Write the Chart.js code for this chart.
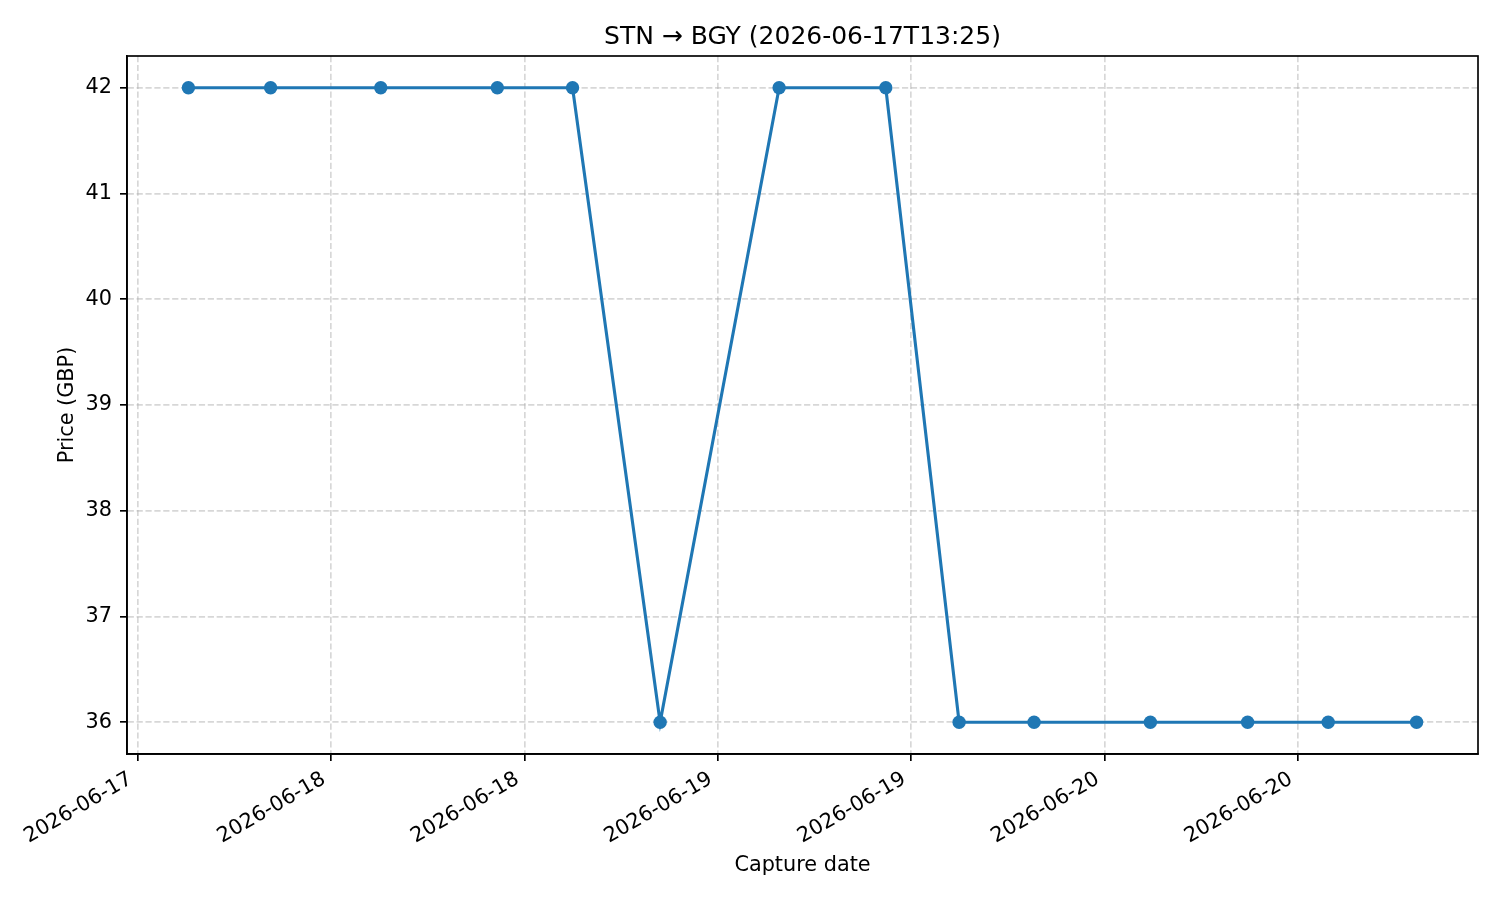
<!DOCTYPE html>
<html>
<head>
<meta charset="utf-8">
<script src="https://cdn.jsdelivr.net/npm/chart.js@4/dist/chart.umd.min.js"></script>
<style>
  html, body { margin: 0; padding: 0; background: #ffffff; }
  #wrap { width: 1500px; height: 900px; }
</style>
</head>
<body>
<div id="wrap"><canvas id="c" width="1500" height="900"></canvas></div>
<script>
const chartTitle = 'STN → BGY (2026-06-17T13:25)';
const xAxisTitle = 'Capture date';
const yAxisTitle = 'Price (GBP)';

const captureTimes = [
  '2026-06-17T15:09', '2026-06-17T20:15', '2026-06-18T03:05', '2026-06-18T10:19',
  '2026-06-18T14:59', '2026-06-18T20:25', '2026-06-19T03:48', '2026-06-19T10:25',
  '2026-06-19T14:58', '2026-06-19T19:37', '2026-06-20T02:50', '2026-06-20T08:52',
  '2026-06-20T13:52', '2026-06-20T19:21'
];
const prices = [42, 42, 42, 42, 42, 36, 42, 42, 36, 36, 36, 36, 36, 36];

const xTickTimes = [
  '2026-06-17T12:00', '2026-06-18T00:00', '2026-06-18T12:00', '2026-06-19T00:00',
  '2026-06-19T12:00', '2026-06-20T00:00', '2026-06-20T12:00'
];
const yTicks = [36, 37, 38, 39, 40, 41, 42];

const toMs = s => Date.parse(s + ':00Z');
const fmtDate = v => new Date(v).toISOString().slice(0, 10);

const xs = captureTimes.map(toMs);
const xSpan = Math.max(...xs) - Math.min(...xs);
const xMin = Math.min(...xs) - 0.05 * xSpan;
const xMax = Math.max(...xs) + 0.05 * xSpan;
const ySpan = Math.max(...prices) - Math.min(...prices);
const yMin = Math.min(...prices) - 0.05 * ySpan;
const yMax = Math.max(...prices) + 0.05 * ySpan;

const points = xs.map((x, i) => ({ x: x, y: prices[i] }));

const FONT = "'DejaVu Sans', sans-serif";
const GRID = 'rgba(176,176,176,0.5)';
const SPINE = '#000000';
const DASH = [6.2, 2.7];

const framePlugin = {
  id: 'frame',
  afterLayout(chart) {
    // centre the title over the plot area, like matplotlib
    const tb = chart.titleBlock;
    if (tb) {
      tb.left = chart.chartArea.left;
      tb.right = chart.chartArea.right;
      tb.width = chart.chartArea.right - chart.chartArea.left;
    }
  },
  afterDraw(chart) {
    const { ctx, chartArea: a } = chart;
    ctx.save();
    ctx.setLineDash([]);
    ctx.strokeStyle = SPINE;
    ctx.lineWidth = 1.67;
    ctx.strokeRect(a.left, a.top, a.right - a.left, a.bottom - a.top);
    ctx.restore();
  }
};

new Chart(document.getElementById('c'), {
  type: 'line',
  data: {
    datasets: [{
      data: points,
      borderColor: '#1f77b4',
      backgroundColor: '#1f77b4',
      borderWidth: 3.1,
      pointRadius: 6.7,
      pointHoverRadius: 6.7,
      pointBackgroundColor: '#1f77b4',
      pointBorderWidth: 0,
      tension: 0,
      fill: false
    }]
  },
  options: {
    responsive: false,
    devicePixelRatio: 1,
    animation: false,
    layout: { padding: { left: 0, right: 22, top: 0, bottom: 0 } },
    plugins: {
      legend: { display: false },
      tooltip: { enabled: false },
      title: {
        display: true,
        text: chartTitle,
        color: '#000000',
        font: { family: FONT, size: 25, weight: 'normal', lineHeight: 1.2 },
        padding: { top: 22, bottom: 4 }
      }
    },
    scales: {
      x: {
        type: 'linear',
        min: xMin,
        max: xMax,
        afterBuildTicks(scale) {
          scale.ticks = xTickTimes.map(t => ({ value: toMs(t) }));
        },
        afterFit(scale) {
          scale.height = 146;
          scale.paddingLeft = 0;
          scale.paddingRight = 0;
        },
        ticks: {
          autoSkip: false,
          minRotation: 30,
          maxRotation: 30,
          padding: 6,
          labelOffset: -7,
          color: '#000000',
          font: { family: FONT, size: 20.8, lineHeight: 1.2 },
          callback: v => fmtDate(v)
        },
        grid: {
          color: GRID,
          lineWidth: 1.67,
          drawTicks: true,
          tickLength: 7,
          tickColor: SPINE,
          tickWidth: 1.67,
          tickBorderDash: []
        },
        border: { display: true, color: SPINE, width: 1.67, dash: DASH },
        title: {
          display: true,
          text: xAxisTitle,
          color: '#000000',
          font: { family: FONT, size: 20.8, lineHeight: 1.2 },
          padding: { top: 0, bottom: 22 }
        }
      },
      y: {
        type: 'linear',
        min: yMin,
        max: yMax,
        afterBuildTicks(scale) {
          scale.ticks = yTicks.map(v => ({ value: v }));
        },
        afterFit(scale) {
          scale.width = 127;
        },
        ticks: {
          padding: 8,
          color: '#000000',
          font: { family: FONT, size: 20.8, lineHeight: 1.2 },
          callback: v => String(v)
        },
        grid: {
          color: GRID,
          lineWidth: 1.67,
          drawTicks: true,
          tickLength: 7,
          tickColor: SPINE,
          tickWidth: 1.67,
          tickBorderDash: []
        },
        border: { display: true, color: SPINE, width: 1.67, dash: DASH },
        title: {
          display: true,
          text: yAxisTitle,
          color: '#000000',
          font: { family: FONT, size: 20.8, lineHeight: 1.2 },
          padding: { top: 55, bottom: 0 }
        }
      }
    }
  },
  plugins: [framePlugin]
});
</script>
</body>
</html>
